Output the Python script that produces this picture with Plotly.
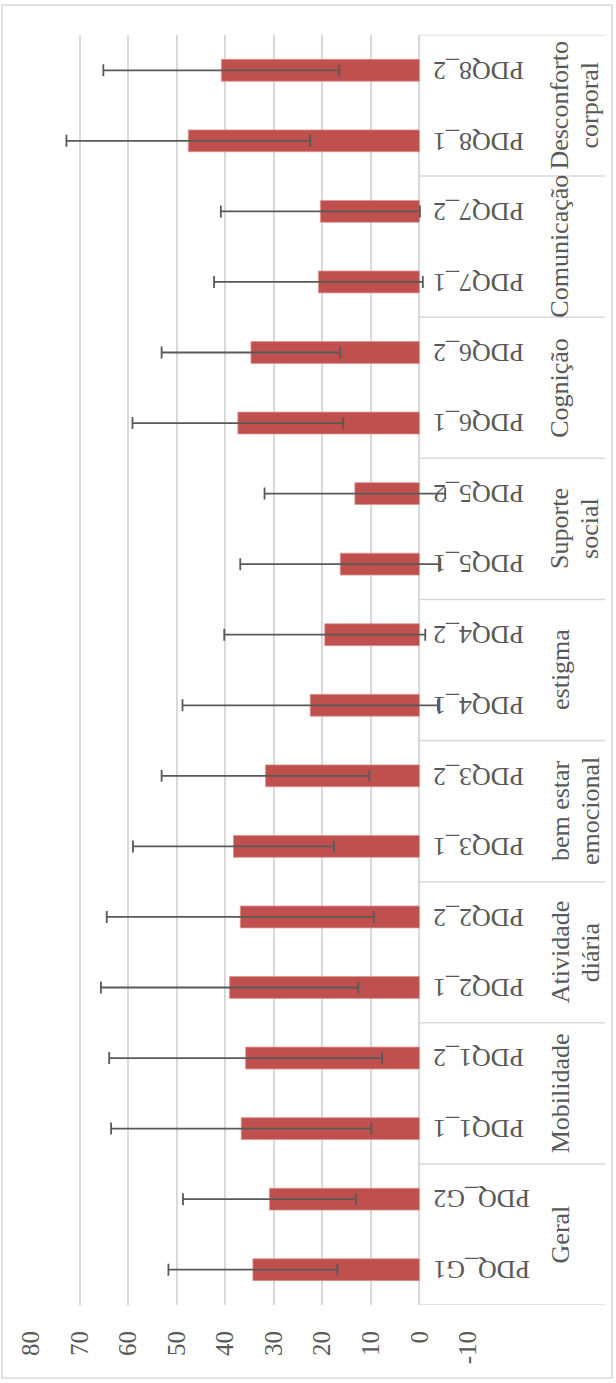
import plotly.graph_objects as go

# PDQ-39 domain scores: mean and standard deviation per item
categories = ["PDQ_G1", "PDQ_G2", "PDQ1_1", "PDQ1_2", "PDQ2_1", "PDQ2_2",
              "PDQ3_1", "PDQ3_2", "PDQ4_1", "PDQ4_2", "PDQ5_1", "PDQ5_2",
              "PDQ6_1", "PDQ6_2", "PDQ7_1", "PDQ7_2", "PDQ8_1", "PDQ8_2"]
means = [34.3, 30.9, 36.7, 35.8, 39.1, 36.9,
         38.3, 31.7, 22.5, 19.5, 16.3, 13.3,
         37.4, 34.7, 20.8, 20.4, 47.6, 40.8]
sds = [17.4, 17.8, 26.8, 28.1, 26.5, 27.5,
       20.7, 21.4, 26.3, 20.7, 20.6, 18.6,
       21.7, 18.4, 21.5, 20.5, 25.1, 24.3]
groups = ["Geral", "Mobilidade", "Atividade\ndiária", "bem estar\nemocional",
          "estigma", "Suporte\nsocial", "Cognição", "Comunicação",
          "Desconforto\ncorporal"]
group_size = 2
tick_values = [-10, 0, 10, 20, 30, 40, 50, 60, 70, 80]

W, H = 616, 1383
ML, MR, MT, MB = 31, 148, 35, 78
PW, PH = W - ML - MR, H - MT - MB
GRID = "#d9d9d9"
TEXT = "#595959"
FONT = "Liberation Serif, Times New Roman, serif"


def px_x(px):
    """Horizontal pixel position -> paper coordinate."""
    return (px - ML) / PW


def px_y(py):
    """Vertical pixel position -> paper coordinate."""
    return (H - MB - py) / PH


idx = list(range(len(categories)))

fig = go.Figure()
fig.add_trace(go.Bar(
    x=means, y=idx, orientation="h", width=0.31,
    marker=dict(color="#C0504D", line=dict(color="#D99694", width=0.8)),
    error_x=dict(type="data", array=sds, visible=True,
                 color=TEXT, thickness=1.8, width=6),
    hoverinfo="skip",
))

shapes = []
# group separators in the category label band
for g in range(len(groups) + 1):
    yb = g * group_size - 0.5
    shapes.append(dict(type="line", xref="paper", yref="y",
                       x0=(80 - 0) / 90, x1=px_x(605), y0=yb, y1=yb,
                       line=dict(color=GRID, width=1.5)))
# chart frame
shapes.append(dict(type="rect", xref="paper", yref="paper",
                   x0=px_x(2), x1=px_x(612), y0=px_y(1378), y1=px_y(5),
                   line=dict(color=GRID, width=1.5)))

annotations = []
for i, c in enumerate(categories):
    annotations.append(dict(text=c, x=px_x(431), xref="paper", y=i, yref="y",
                            xanchor="left", yanchor="middle", textangle=180,
                            showarrow=False,
                            font=dict(family=FONT, size=26, color=TEXT)))
for g, name in enumerate(groups):
    yc = g * group_size + (group_size - 1) / 2
    for k, line in enumerate(name.split("\n")):
        annotations.append(dict(text=line, x=px_x(560 + 30 * k), xref="paper",
                                y=yc, yref="y", xanchor="center",
                                yanchor="middle", textangle=-90,
                                showarrow=False,
                                font=dict(family=FONT, size=26, color=TEXT)))

fig.update_layout(
    width=W, height=H,
    margin=dict(l=ML, r=MR, t=MT, b=MB, autoexpand=False),
    paper_bgcolor="white", plot_bgcolor="white",
    showlegend=False,
    shapes=shapes, annotations=annotations,
    xaxis=dict(range=[80, -10], tickvals=tick_values,
               ticktext=[str(v) for v in tick_values],
               tickangle=-90, ticks="", ticklabelstandoff=20,
               showgrid=True, gridcolor=GRID, gridwidth=1.5,
               zeroline=True, zerolinecolor=GRID, zerolinewidth=1.5,
               showline=False,
               tickfont=dict(family=FONT, size=25, color=TEXT)),
    yaxis=dict(range=[-0.5, len(categories) - 0.5], showticklabels=False,
               showgrid=False, zeroline=False, showline=False),
)

fig.write_html("out.html")
